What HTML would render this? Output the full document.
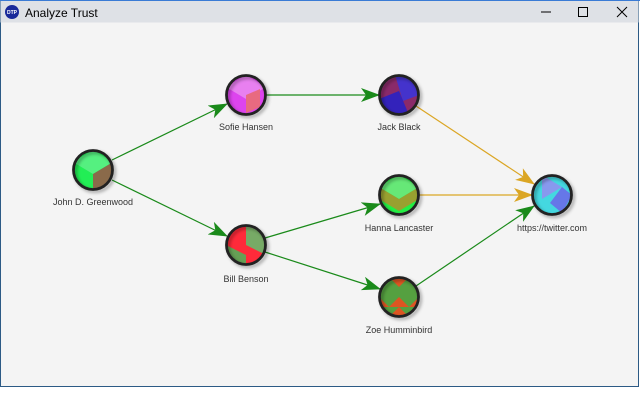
<!DOCTYPE html>
<html><head><style>
html,body{margin:0;padding:0;background:#fff;width:640px;height:400px;overflow:hidden;font-family:"Liberation Sans",sans-serif}
</style></head><body>
<svg width="640" height="400" xmlns="http://www.w3.org/2000/svg" style="display:block">
<defs>
<filter id="sh" x="-50%" y="-50%" width="200%" height="200%"><feDropShadow dx="2" dy="2" stdDeviation="1.5" flood-color="#000" flood-opacity="0.35"/></filter>
<marker id="ag" markerWidth="20" markerHeight="14" refX="18" refY="7" orient="auto" markerUnits="userSpaceOnUse"><path d="M0,0 L19,7 L0,14 L5,7Z" fill="#1a8a1a"/></marker>
<marker id="ay" markerWidth="20" markerHeight="14" refX="18" refY="7" orient="auto" markerUnits="userSpaceOnUse"><path d="M0,0 L19,7 L0,14 L5,7Z" fill="#dba624"/></marker>
<clipPath id="c"><circle r="19"/></clipPath>
</defs>
<rect x="0.5" y="0.5" width="638" height="386" fill="#f4f4f4" stroke="#2c5a85" stroke-width="1"/>
<rect x="0.5" y="0.5" width="638" height="22" fill="#dee1e6"/>
<line x1="0" y1="0.5" x2="640" y2="0.5" stroke="#3a7bd5"/>
<circle cx="12" cy="12" r="7" fill="#1a2a9a"/>
<text x="12" y="14" font-size="5" font-weight="bold" fill="#fff" text-anchor="middle">DTP</text>
<text x="25" y="17" font-size="12" fill="#000">Analyze Trust</text>
<line x1="541" y1="12" x2="551" y2="12" stroke="#000"/>
<rect x="578.5" y="7.5" width="9" height="9" fill="none" stroke="#000"/>
<path d="M617,7 L627,17 M627,7 L617,17" stroke="#000"/>

<g stroke-width="1.2" fill="none">
<line x1="112" y1="160" x2="227" y2="104" stroke="#1a8a1a" marker-end="url(#ag)"/>
<line x1="112" y1="180" x2="227" y2="236" stroke="#1a8a1a" marker-end="url(#ag)"/>
<line x1="266" y1="95" x2="379" y2="95" stroke="#1a8a1a" marker-end="url(#ag)"/>
<line x1="265" y1="238" x2="380" y2="204" stroke="#1a8a1a" marker-end="url(#ag)"/>
<line x1="265" y1="252" x2="380" y2="289" stroke="#1a8a1a" marker-end="url(#ag)"/>
<line x1="416" y1="106" x2="534" y2="184" stroke="#dba624" marker-end="url(#ay)"/>
<line x1="419" y1="195" x2="532" y2="195" stroke="#dba624" marker-end="url(#ay)"/>
<line x1="416" y1="286" x2="534" y2="206" stroke="#1a8a1a" marker-end="url(#ag)"/>
</g>

<g transform="translate(93,170)"><g clip-path="url(#c)"><rect x="-20" y="-20" width="40" height="40" fill="#22ee55"/><path d="M0,-20 L20,-8 L0,4 L-20,-8Z" fill="#55f080"/><path d="M0,4 L20,-8 L20,20 L0,20Z" fill="#8a6a4a"/></g><circle r="19.5" fill="none" stroke="#222" stroke-width="2.8" filter="url(#sh)"/></g>
<g transform="translate(246,95)"><g clip-path="url(#c)"><rect x="-20" y="-20" width="40" height="40" fill="#dd44ee"/><path d="M0,-20 L20,-8 L0,4 L-20,-8Z" fill="#e880f0"/><path d="M0,0 L14,-6 L14,12 L0,18Z" fill="#e86a80"/></g><circle r="19.5" fill="none" stroke="#222" stroke-width="2.8" filter="url(#sh)"/></g>
<g transform="translate(399,95)"><g clip-path="url(#c)"><rect x="-20" y="-20" width="40" height="40" fill="#8a2a6a"/><path d="M-4,-20 L20,-20 L20,0 L4,6Z" fill="#4433cc"/><path d="M-20,4 L0,-4 L10,20 L-20,20Z" fill="#3322bb"/></g><circle r="19.5" fill="none" stroke="#222" stroke-width="2.8" filter="url(#sh)"/></g>
<g transform="translate(399,195)"><g clip-path="url(#c)"><rect x="-20" y="-20" width="40" height="40" fill="#22ee44"/><path d="M0,-20 L20,-8 L0,4 L-20,-8Z" fill="#66e877"/><path d="M-20,-8 L0,4 L20,-8 L20,4 L0,16 L-20,4Z" fill="#99a030"/></g><circle r="19.5" fill="none" stroke="#222" stroke-width="2.8" filter="url(#sh)"/></g>
<g transform="translate(246,245)"><g clip-path="url(#c)"><rect x="-20" y="-20" width="40" height="40" fill="#ff2a3a"/><path d="M0,-20 L20,-20 L20,10 L0,0Z" fill="#77aa66"/><path d="M-20,0 L0,10 L0,20 L-20,20Z" fill="#66a055"/></g><circle r="19.5" fill="none" stroke="#222" stroke-width="2.8" filter="url(#sh)"/></g>
<g transform="translate(399,297)"><g clip-path="url(#c)"><rect x="-20" y="-20" width="40" height="40" fill="#dd5522"/><path d="M-20,-10 L-10,-20 L0,-10 L10,-20 L20,-10 L20,0 L10,10 L0,0 L-10,10 L-20,0Z" fill="#55a040"/><path d="M-20,10 L-10,20 L0,10 L10,20 L20,10" fill="#55a040"/></g><circle r="19.5" fill="none" stroke="#222" stroke-width="2.8" filter="url(#sh)"/></g>
<g transform="translate(552,195)"><g clip-path="url(#c)"><rect x="-20" y="-20" width="40" height="40" fill="#44d8e0"/><path d="M-10,-20 L10,-8 L-10,4Z" fill="#8899ee"/><path d="M10,-8 L20,0 L10,18 L-2,8Z" fill="#6677e8"/></g><circle r="19.5" fill="none" stroke="#222" stroke-width="2.8" filter="url(#sh)"/></g>

<g font-size="9" fill="#333" text-anchor="middle">
<text x="93" y="205">John D. Greenwood</text>
<text x="246" y="130">Sofie Hansen</text>
<text x="399" y="130">Jack Black</text>
<text x="399" y="231">Hanna Lancaster</text>
<text x="552" y="231">https://twitter.com</text>
<text x="246" y="282">Bill Benson</text>
<text x="399" y="333">Zoe Humminbird</text>
</g>
</svg>
</body></html>
